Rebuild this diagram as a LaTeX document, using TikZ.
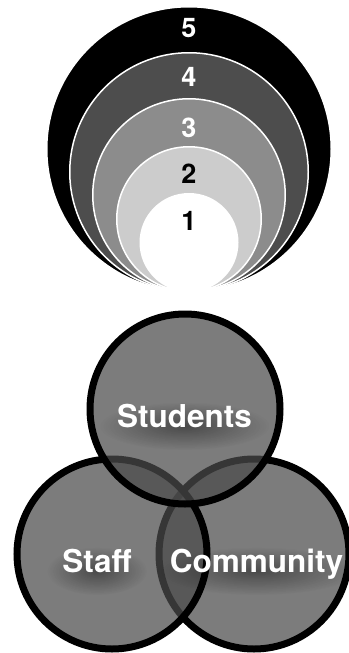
\documentclass[tikz,border=0pt]{standalone}
\usepackage{fontspec}
\setmainfont{TeX Gyre Heros}
\usepackage{tikz}
\usetikzlibrary{fadings}

\definecolor{ringfive}{HTML}{000000}
\definecolor{ringfour}{HTML}{4D4D4D}
\definecolor{ringthree}{HTML}{8C8C8C}
\definecolor{ringtwo}{HTML}{CCCCCC}
\definecolor{venngray}{HTML}{4B4B4B}

\tikzfading[name=softglow,inner color=transparent!20,outer color=transparent!100]

\tikzset{
    ring/.style={circle,draw=white,line width=1.5pt,inner sep=0pt},
    venn/.style={circle,draw=black,line width=7pt,fill=venngray,fill opacity=0.73,
        draw opacity=1,minimum size=190pt,inner sep=0pt},
    num/.style={font=\fontsize{27}{32}\selectfont\bfseries,anchor=base,inner sep=0pt},
    lbl/.style={font=\fontsize{31.5}{36}\selectfont\bfseries,anchor=base,inner sep=0pt,text=white},
    glow/.style={fill=black,fill opacity=0.5,path fading=softglow}
}

\begin{document}
\begin{tikzpicture}[x=1pt,y=-1pt]
            \useasboundingbox (0,0) rectangle (348,653);
            % nested rings, all touching at the bottom
            \begin{scope}
                \clip (0,0) rectangle (348,286);
                \node [ring,fill=ringfive,minimum size=284.5pt] (r5) at (189,149) {};
                \node [ring,fill=ringfour,minimum size=238.5pt] (r4) at (189,172) {};
                \node [ring,fill=ringthree,minimum size=192.5pt] (r3) at (189,195) {};
                \node [ring,fill=ringtwo,minimum size=144.5pt] (r2) at (189,219) {};
                \node [ring,fill=white,minimum size=97.5pt] (r1) at (189,242.5) {};
            \end{scope}
            \node [num,text=white] (n5) at (189,37) {5};
            \node [num,text=white] (n4) at (189,86) {4};
            \node [num,text=white] (n3) at (189,137) {3};
            \node [num,text=black] (n2) at (189,183) {2};
            \node [num,text=black] (n1) at (189,230) {1};
            % venn circles
            \node [venn] (community) at (254,554) {};
            \node [venn] (staff) at (112,554) {};
            \node [venn] (students) at (185,409) {};
            % soft shadows under the labels
            \fill [glow] (184.5,426) ellipse [x radius=85,y radius=24];
            \fill [glow] (97,571) ellipse [x radius=50,y radius=24];
            \fill [glow] (256.5,571) ellipse [x radius=100,y radius=24];
            \node [lbl] (lstudents) at (184.5,427) {Students};
            \node [lbl] (lstaff) at (97,572) {Staff};
            \node [lbl] (lcommunity) at (256.5,572) {Community};
        \end{tikzpicture}
\end{document}
